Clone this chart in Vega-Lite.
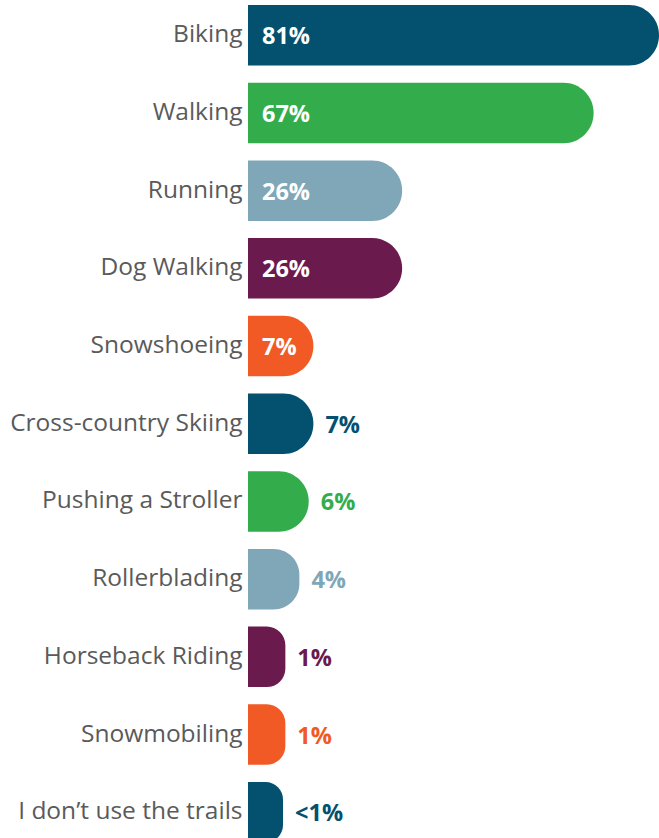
{
  "$schema": "https://vega.github.io/schema/vega-lite/v6.json",
  "width": 411,
  "height": 837.5,
  "autosize": {"type": "none"},
  "padding": {"left": 248, "top": 5, "right": 0, "bottom": 0},
  "background": "white",
  "config": {"view": {"stroke": null}},
  "data": {
    "values": [
      {"activity": "Biking", "value": 81, "label": "81%"},
      {"activity": "Walking", "value": 67, "label": "67%"},
      {"activity": "Running", "value": 26, "label": "26%"},
      {"activity": "Dog Walking", "value": 26, "label": "26%"},
      {"activity": "Snowshoeing", "value": 7, "label": "7%"},
      {"activity": "Cross-country Skiing", "value": 7, "label": "7%"},
      {"activity": "Pushing a Stroller", "value": 6, "label": "6%"},
      {"activity": "Rollerblading", "value": 4, "label": "4%"},
      {"activity": "Horseback Riding", "value": 1, "label": "1%"},
      {"activity": "Snowmobiling", "value": 1, "label": "1%"},
      {"activity": "I don’t use the trails", "value": 0.5, "label": "<1%"}
    ]
  },
  "encoding": {
    "y": {
      "field": "activity",
      "type": "nominal",
      "sort": null,
      "scale": {"paddingInner": 0.221, "paddingOuter": 0},
      "axis": {
        "title": null,
        "ticks": false,
        "domain": false,
        "labelPadding": 6,
        "labelFontSize": 24.5,
        "labelFont": "Open Sans",
        "labelColor": "#5a5a5a",
        "labelLimit": 0
      }
    }
  },
  "layer": [
    {
      "mark": {"type": "bar", "cornerRadiusTopRight": 30, "cornerRadiusBottomRight": 30},
      "encoding": {
        "x": {
          "field": "value",
          "type": "quantitative",
          "scale": {"domain": [-7, 81], "nice": false, "zero": false},
          "axis": null
        },
        "x2": {"datum": -7},
        "color": {
          "field": "activity",
          "type": "nominal",
          "legend": null,
          "scale": {
            "domain": ["Biking", "Walking", "Running", "Dog Walking", "Snowshoeing", "Cross-country Skiing", "Pushing a Stroller", "Rollerblading", "Horseback Riding", "Snowmobiling", "I don’t use the trails"],
            "range": ["#03506f", "#33ad4b", "#7fa7b7", "#6b1a4e", "#f15a24", "#03506f", "#33ad4b", "#7fa7b7", "#6b1a4e", "#f15a24", "#03506f"]
          }
        }
      }
    },
    {
      "transform": [{"filter": {"field": "activity", "oneOf": ["Biking", "Walking", "Running", "Dog Walking", "Snowshoeing"]}}],
      "mark": {"type": "text", "align": "left", "baseline": "middle", "dx": 14, "dy": 2, "font": "Open Sans", "fontWeight": "bold", "fontSize": 23.5, "color": "white"},
      "encoding": {
        "x": {"datum": -7, "type": "quantitative"},
        "text": {"field": "label"}
      }
    },
    {
      "transform": [{"filter": {"not": {"field": "activity", "oneOf": ["Biking", "Walking", "Running", "Dog Walking", "Snowshoeing"]}}}],
      "mark": {"type": "text", "align": "left", "baseline": "middle", "dx": 12, "dy": 2, "font": "Open Sans", "fontWeight": "bold", "fontSize": 23.5},
      "encoding": {
        "x": {"field": "value", "type": "quantitative"},
        "text": {"field": "label"},
        "color": {"field": "activity", "type": "nominal", "legend": null}
      }
    }
  ]
}
